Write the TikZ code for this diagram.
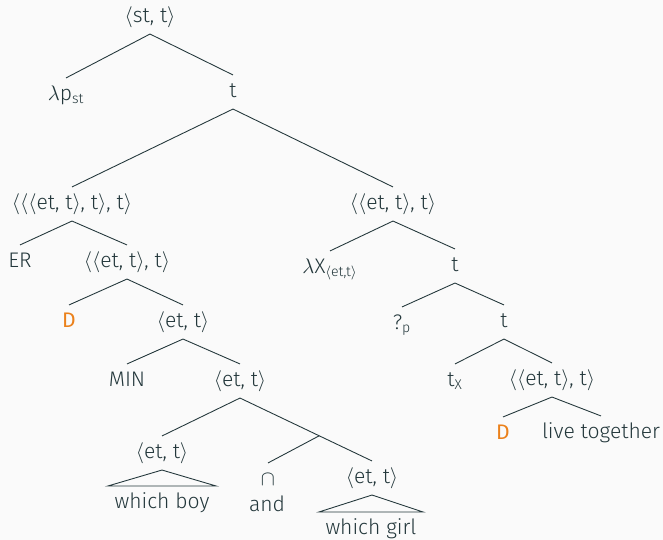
\documentclass[tikz,border=0pt]{standalone}
\usepackage{fontspec}
\setmainfont{Fira Sans Light}
\newfontfamily\alertfont{Fira Sans}
\usepackage{xcolor}
\usetikzlibrary{positioning,calc}
\definecolor{mDarkTeal}{HTML}{23373B}
\definecolor{mOrange}{HTML}{EB811B}
\definecolor{mBack}{HTML}{FAFAFA}
\newcommand{\ty}[1]{$\langle$#1$\rangle$}
\tikzset{
	lab/.style={text=mDarkTeal, inner sep=3.5pt, text height=9pt, text depth=3pt},
	hl/.style={lab, text=mOrange, font=\fontsize{12}{14}\alertfont},
	edge/.style={draw=mDarkTeal, line width=0.5pt}
}

\begin{document}
\begin{tikzpicture}[x=0.02cm,y=-0.02cm,font=\fontsize{12}{14}\selectfont]
	\fill [mBack] (0,0) rectangle (663,540);
	\useasboundingbox (0,0) rectangle (663,540);
	% top
	\node [lab] (root) at (150,17) {\ty{st, t}};
	\node [lab] (lp) at (66,95) {$\lambda$p\textsubscript{st}};
	\node [lab] (t1) at (233,92) {t};
	% left branch
	\node [lab] (q3) at (72,204) {\ty{\ty{\ty{et, t}, t}, t}};
	\node [lab] (er) at (20,262) {ER};
	\node [lab] (q2) at (127,262) {\ty{\ty{et, t}, t}};
	\node [hl] (d1) at (69,322) {D};
	\node [lab] (et1) at (183,322) {\ty{et, t}};
	\node [lab] (min) at (127,381) {MIN};
	\node [lab] (et2) at (240,381) {\ty{et, t}};
	\node [lab] (etb) at (162,453) {\ty{et, t}};
	\node [lab] (wb) at (162,503) {which boy};
	\node [lab] (cap) at (268,480) {$\cap$};
	\node [lab] (and) at (267,506) {and};
	\node [lab] (etg) at (372,478) {\ty{et, t}};
	\node [lab] (wg) at (371,529) {which girl};
	% right branch
	\node [lab] (q2r) at (393,204) {\ty{\ty{et, t}, t}};
	\node [lab] (lx) at (330,268) {$\lambda$X\textsubscript{\ty{et,t}}};
	\node [lab] (t2) at (455,266) {t};
	\node [lab] (qp) at (402,324) {?\textsubscript{p}};
	\node [lab] (t3) at (504,322) {t};
	\node [lab] (tx) at (455,381) {t\textsubscript{X}};
	\node [lab] (q2s) at (552,380) {\ty{\ty{et, t}, t}};
	\node [hl] (d2) at (503,434) {D};
	\node [lab] (lt) at (601,433) {live together};
	% branches
	\foreach \a/\b in {root/lp,root/t1,t1/q3,t1/q2r,q3/er,q3/q2,q2/d1,q2/et1,
		et1/min,et1/et2,et2/etb,et2/etg,q2r/lx,q2r/t2,t2/qp,t2/t3,t3/tx,t3/q2s,
		q2s/d2,q2s/lt}
		\draw [edge] (\a.south) -- (\b.north);
	\coordinate (cj) at ($(et2.south)!0.6!(etg.north)$);
	\draw [edge] (cap.north) -- (cj);
	% roofs
	\draw [edge] (etb.south) -- (wb.north west) -- (wb.north east) -- cycle;
	\draw [edge] (etg.south) -- (wg.north west) -- (wg.north east) -- cycle;
\end{tikzpicture}
\end{document}
